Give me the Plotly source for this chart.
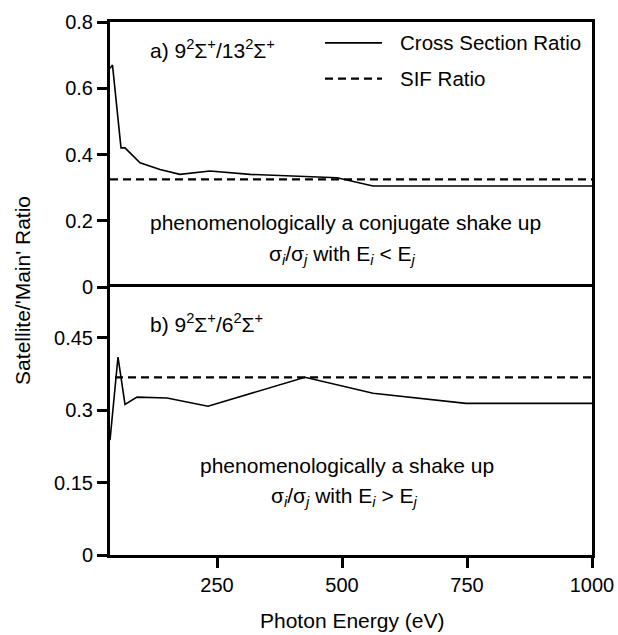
import plotly.graph_objects as go

# ---------------- data ----------------
energy_a = [36, 41, 58, 66, 96, 136, 176, 236, 316, 416, 490, 562, 1000]
ratio_a = [0.66, 0.67, 0.42, 0.42, 0.375, 0.355, 0.34, 0.35, 0.34, 0.335, 0.33, 0.305, 0.305]
sif_a_energy = [36, 1000]
sif_a = [0.325, 0.325]

energy_b = [36, 52, 66, 90, 150, 232, 426, 562, 748, 1000]
ratio_b = [0.238, 0.41, 0.312, 0.327, 0.325, 0.308, 0.368, 0.335, 0.314, 0.314]
sif_b_energy = [46, 1000]
sif_b = [0.368, 0.368]

series_names = ["Cross Section Ratio", "SIF Ratio"]
x_ticks = [250, 500, 750, 1000]
y_ticks_a = [0, 0.2, 0.4, 0.6, 0.8]
y_tick_text_a = ["0", "0.2", "0.4", "0.6", "0.8"]
y_ticks_b = [0, 0.15, 0.3, 0.45]
y_tick_text_b = ["0", "0.15", "0.3", "0.45"]

FONT = "Liberation Sans, Arial, Helvetica, sans-serif"

fig = go.Figure()
# top panel (x2, y2)
fig.add_trace(go.Scatter(x=energy_a, y=ratio_a, mode="lines", xaxis="x2", yaxis="y2",
                         line=dict(color="black", width=1.6), showlegend=False))
fig.add_trace(go.Scatter(x=sif_a_energy, y=sif_a, mode="lines", xaxis="x2", yaxis="y2",
                         line=dict(color="black", width=2.2, dash="8px,5px"), showlegend=False))
# bottom panel (x, y)
fig.add_trace(go.Scatter(x=energy_b, y=ratio_b, mode="lines", xaxis="x", yaxis="y",
                         line=dict(color="black", width=1.6), showlegend=False))
fig.add_trace(go.Scatter(x=sif_b_energy, y=sif_b, mode="lines", xaxis="x", yaxis="y",
                         line=dict(color="black", width=2.2, dash="8px,5px"), showlegend=False))

split = 268 / 533
axis_common = dict(showline=True, linewidth=3, linecolor="black",
                   showgrid=False, zeroline=False, automargin=False,
                   tickfont=dict(family=FONT, size=20, color="black"))

fig.update_layout(
    width=618, height=635,
    margin=dict(l=110, r=26, t=22, b=80),
    paper_bgcolor="white", plot_bgcolor="white",
    font=dict(family=FONT, size=21, color="black"),
    xaxis=dict(domain=[0, 1], range=[36, 1000], anchor="y", mirror=True,
               tickvals=x_ticks, ticks="outside", ticklen=10, tickwidth=3,
               tickcolor="black", **axis_common),
    yaxis=dict(domain=[0, split], range=[0, 0.555], anchor="x", mirror=True,
               tickvals=y_ticks_b, ticktext=y_tick_text_b, ticks="outside",
               ticklen=10, tickwidth=3, tickcolor="black", **axis_common),
    xaxis2=dict(domain=[0, 1], range=[36, 1000], anchor="y2", matches="x", side="top",
                mirror=False, showticklabels=False, ticks="", **axis_common),
    yaxis2=dict(domain=[split, 1], range=[0, 0.8], anchor="x2", mirror=True,
                tickvals=y_ticks_a, ticktext=y_tick_text_a, ticks="outside",
                ticklen=10, tickwidth=3, tickcolor="black", **axis_common),
)

ann_font = dict(family=FONT, size=21, color="black")
legend_font = dict(family=FONT, size=20.5, color="black")
annotations = [
    dict(x=112, y=0.72, xref="x2", yref="y2", xanchor="left", yanchor="middle",
         text="a) 9<sup>2</sup>Σ<sup>+</sup>/13<sup>2</sup>Σ<sup>+</sup>", showarrow=False, font=ann_font),
    dict(x=506, y=0.195, xref="x2", yref="y2", xanchor="center", yanchor="middle",
         text="phenomenologically a conjugate shake up", showarrow=False, font=ann_font),
    dict(x=500, y=0.096, xref="x2", yref="y2", xanchor="center", yanchor="middle",
         text="σ<sub><i>i</i></sub>/σ<sub><i>j</i></sub> with E<sub><i>i</i></sub> &lt; E<sub><i>j</i></sub>",
         showarrow=False, font=ann_font),
    dict(x=112, y=0.48, xref="x", yref="y", xanchor="left", yanchor="middle",
         text="b) 9<sup>2</sup>Σ<sup>+</sup>/6<sup>2</sup>Σ<sup>+</sup>", showarrow=False, font=ann_font),
    dict(x=510, y=0.186, xref="x", yref="y", xanchor="center", yanchor="middle",
         text="phenomenologically a shake up", showarrow=False, font=ann_font),
    dict(x=504, y=0.12, xref="x", yref="y", xanchor="center", yanchor="middle",
         text="σ<sub><i>i</i></sub>/σ<sub><i>j</i></sub> with E<sub><i>i</i></sub> &gt; E<sub><i>j</i></sub>",
         showarrow=False, font=ann_font),
    # legend text
    dict(x=612, y=0.737, xref="x2", yref="y2", xanchor="left", yanchor="middle",
         text=series_names[0], showarrow=False, font=legend_font),
    dict(x=612, y=0.629, xref="x2", yref="y2", xanchor="left", yanchor="middle",
         text=series_names[1], showarrow=False, font=legend_font),
    # axis titles
    dict(x=-0.183, y=0.497, xref="paper", yref="paper", xanchor="center", yanchor="middle",
         text="Satellite/'Main' Ratio", textangle=-90, showarrow=False, font=ann_font),
    dict(x=0.502, y=-0.122, xref="paper", yref="paper", xanchor="center", yanchor="middle",
         text="Photon Energy (eV)", showarrow=False, font=ann_font),
]
fig.update_layout(annotations=annotations)

# legend samples
fig.add_shape(type="line", xref="x2", yref="y2", x0=466, x1=580, y0=0.737, y1=0.737,
              line=dict(color="black", width=1.6))
fig.add_shape(type="line", xref="x2", yref="y2", x0=466, x1=580, y0=0.629, y1=0.629,
              line=dict(color="black", width=2.2, dash="8px,5px"))

fig.write_html(
    "out.html",
    config={"displayModeBar": False},
    post_script="document.body.style.margin='0px';document.body.style.overflow='hidden';",
)
